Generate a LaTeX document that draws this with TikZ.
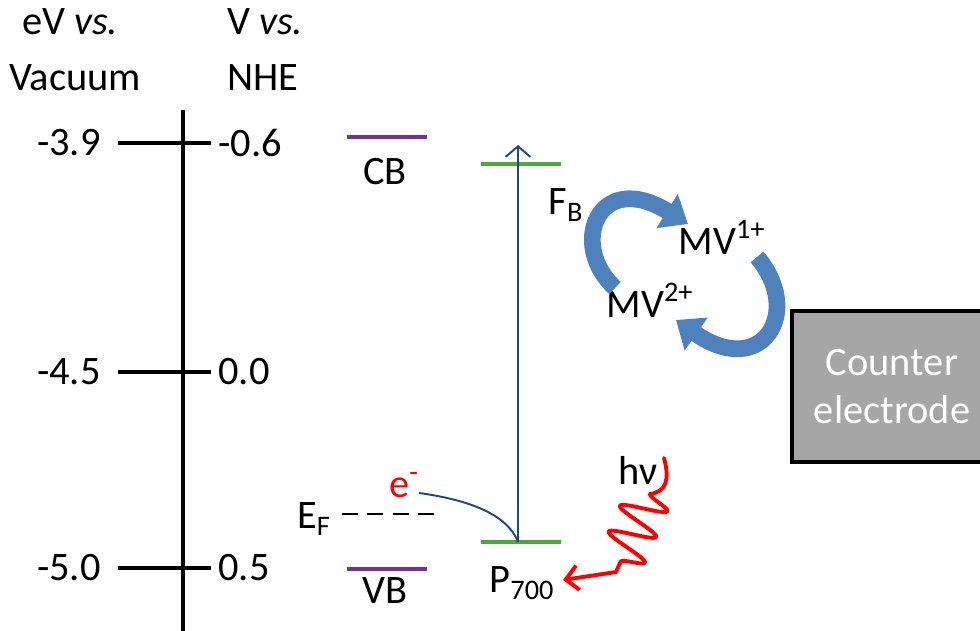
\documentclass[tikz,border=0pt]{standalone}
\usepackage{fontspec}
\setmainfont{Carlito}
\usetikzlibrary{arrows.meta, decorations.pathmorphing}
\definecolor{bandpurple}{RGB}{112, 48, 160}
\definecolor{psgreen}{RGB}{76, 168, 60}
\definecolor{excite}{RGB}{31, 73, 125}
\definecolor{cycleblue}{RGB}{79, 129, 189}
\definecolor{boxgray}{RGB}{166, 166, 166}

\begin{document}
\begin{tikzpicture}[
    x=0.02cm, y=-0.02cm,
    font=\fontsize{23}{27}\selectfont,
    % Styles definition
    txt/.style={inner sep=0pt, anchor=center},
    axis/.style={line width=2.8pt, draw=black},
    tick/.style={line width=2.3pt, draw=black},
    band/.style={line width=2.3pt, draw=bandpurple},
    level/.style={line width=2.3pt, draw=psgreen},
    excitation/.style={draw=excite, line width=1.1pt},
    cyclearrow/.style={draw=cycleblue, line width=9.5pt, -{Triangle[length=14pt, width=22pt]}},
    photon/.style={draw=red, line width=2.2pt, line cap=round, line join=round, -{Straight Barb[length=7pt, width=14pt]}},
    wiggle/.style={decorate, decoration={snake, amplitude=13pt, segment length=16pt}},
    electrode/.style={draw=black, line width=2.5pt, fill=boxgray, text=white, align=center,
        minimum width=4cm, minimum height=3.02cm, inner sep=0pt}
]
\useasboundingbox (0,0) rectangle (980,631);
\clip (0,0) rectangle (980,631);

% 1. Energy scales
\node[txt] (evhead) at (70,22) {eV \textit{vs.}};
\node[txt] (vachead) at (75,78) {Vacuum};
\node[txt] (vhead) at (265,22) {V \textit{vs.}};
\node[txt] (nhehead) at (263,78) {NHE};

\coordinate (axtop) at (183,110);
\coordinate (axbot) at (183,640);
\draw[axis] (axtop) -- (axbot);

\foreach \y/\ev/\nhe [count=\i] in {143/-3.9/-0.6, 372/-4.5/0.0, 568/-5.0/0.5} {
    \draw[tick] (118,\y) -- (211,\y);
    \node[txt, anchor=east] (ev\i) at (101,\y) {\ev};
    \node[txt, anchor=west] (nhe\i) at (218,\y) {\nhe};
}

% 2. Semiconductor bands
\draw[band] (347,137) -- (427,137);
\node[txt] (cb) at (385,172) {CB};
\draw[band] (347,569) -- (427,569);
\node[txt] (vb) at (385,591) {VB};

\node[txt] (ef) at (314,519) {E\textsubscript{F}};
\draw[line width=1.6pt, dash pattern=on 9pt off 5.5pt] (342,514) -- (442,514);

% 3. Photosystem levels
\draw[level] (481,164) -- (561,164);
\draw[level] (481,542) -- (561,542);
\coordinate (p700lvl) at (518,542);
\coordinate (fblvl) at (518,145);
\draw[excitation, -{Straight Barb[length=6pt, width=14pt]}] (p700lvl) -- (fblvl);

\node[txt] (p700) at (522,583) {P\textsubscript{700}};
\node[txt] (fb) at (566,205) {F\textsubscript{B}};

% electron from the electrode
\node[txt, text=red] (elec) at (404,485) {e\textsuperscript{-}};
\coordinate (estart) at (419,493);
\draw[excitation] (estart) .. controls (470,500) and (508,515) .. (p700lvl);

% 4. Methyl viologen cycle
\node[txt] (mv1) at (722,237) {MV\textsuperscript{1+}};
\node[txt] (mv2) at (650,300) {MV\textsuperscript{2+}};
\draw[cyclearrow] (615,288) .. controls (568,245) and (598,168) .. (688,224);
\draw[cyclearrow] (757,257) .. controls (804,312) and (762,380) .. (676,320);

% 5. Counter electrode
\node[electrode] (counter) at (892,386.5) {Counter\\electrode};

% 6. Light
\node[txt] (hnu) at (638,470) {hν};
\coordinate (wavestart) at (664,458);
\coordinate (waveend) at (563,580);
\draw[photon] (wavestart) .. controls (670,480) and (666,492) .. (650,494)
    decorate[wiggle]{ -- (616,572)} -- (waveend);

\end{tikzpicture}
\end{document}
